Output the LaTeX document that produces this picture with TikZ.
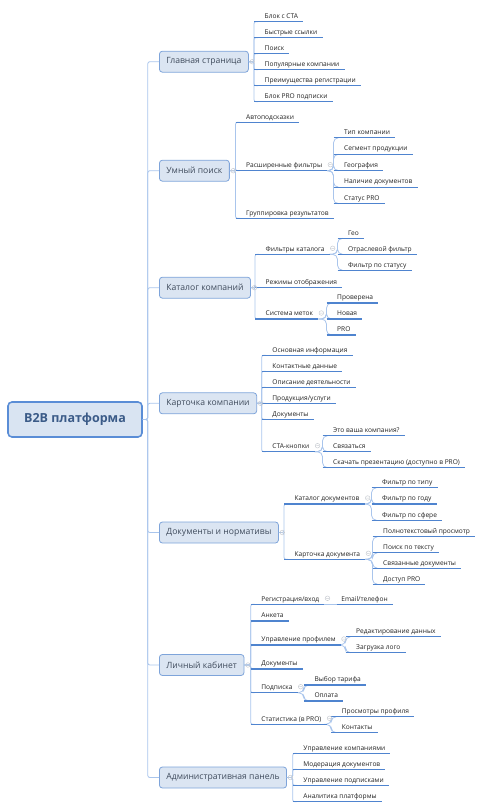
\documentclass[tikz,border=0pt]{standalone}
\usepackage{fontspec}
\setmainfont{Open Sans}
\usetikzlibrary{calc}
\definecolor{rootfill}{HTML}{D9E4F2}
\definecolor{rootline}{HTML}{5A8DD6}
\definecolor{roottext}{HTML}{3B5B88}
\definecolor{topicfill}{HTML}{DBE5F2}
\definecolor{topicline}{HTML}{7EA4DA}
\definecolor{topictext}{HTML}{3F4B5C}
\definecolor{linkblue}{HTML}{A9C5EC}
\definecolor{ulblue}{HTML}{4F84CF}
\definecolor{leaftext}{HTML}{222222}
\definecolor{foldgray}{HTML}{C9CDD3}

\begin{document}
\begin{tikzpicture}[
  x=1pt, y=-1pt,
  root/.style={draw=rootline, fill=rootfill, line width=1.6pt, rounded corners=4pt, minimum width=134pt, minimum height=35pt, text=roottext, font=\fontsize{12.5}{14}\selectfont\bfseries},
  topic/.style={anchor=west, draw=topicline, fill=topicfill, line width=0.8pt, rounded corners=3pt, minimum height=21pt, inner xsep=7pt, text=topictext, font=\fontsize{8.6}{10}\selectfont},
  leaf/.style={anchor=south west, inner sep=0pt, text height=5.2pt, text depth=3pt, text=leaftext, font=\fontsize{6.6}{8}\selectfont, execute at begin node={\hspace*{#1}}, execute at end node={\hspace*{5pt}}},
  leaf/.default=10.5pt,
  link/.style={draw=linkblue, line width=0.8pt, rounded corners=2pt},
  twig/.style={draw=linkblue, line width=0.8pt, rounded corners=5pt},
  uline/.style={draw=ulblue, line width=1.3pt},
  fold/.style={draw=foldgray, line width=0.5pt}
]
  \useasboundingbox (0,0) rectangle (483,810);

  % Root
  \node[root] (root) at (75,419.5) {B2B платформа};

  % Main topics
  \node[topic] (home) at (159,61.7) {Главная страница};
  \node[topic] (search) at (159,170.7) {Умный поиск};
  \node[topic] (catalog) at (159,287.7) {Каталог компаний};
  \node[topic] (card) at (159,403.3) {Карточка компании};
  \node[topic] (docs) at (159,532.5) {Документы и нормативы};
  \node[topic] (cabinet) at (159,665) {Личный кабинет};
  \node[topic] (admin) at (159,777.5) {Административная панель};

  % Home page
  \node[leaf] (home1) at (254,21.7) {Блок с CTA};
  \node[leaf] (home2) at (254,37.7) {Быстрые ссылки};
  \node[leaf] (home3) at (254,53.7) {Поиск};
  \node[leaf] (home4) at (254,69.7) {Популярные компании};
  \node[leaf] (home5) at (254,85.7) {Преимущества регистрации};
  \node[leaf] (home6) at (254,101.7) {Блок PRO подписки};

  % Smart search
  \node[leaf] (search1) at (235.5,122.3) {Автоподсказки};
  \node[leaf] (search2) at (235.5,170.7) {Расширенные фильтры};
  \node[leaf] (search3) at (235.5,218.3) {Группировка результатов};
  \node[leaf] (filt1) at (333.5,137.7) {Тип компании};
  \node[leaf] (filt2) at (333.5,154.2) {Сегмент продукции};
  \node[leaf] (filt3) at (333.5,170.7) {География};
  \node[leaf] (filt4) at (333.5,187.2) {Наличие документов};
  \node[leaf] (filt5) at (333.5,203.7) {Статус PRO};

  % Company catalog
  \node[leaf] (catalog1) at (255,254.3) {Фильтры каталога};
  \node[leaf] (catalog2) at (255,287.7) {Режимы отображения};
  \node[leaf] (catalog3) at (255,319) {Система меток};
  \node[leaf] (cfilt1) at (337.5,238.3) {Гео};
  \node[leaf] (cfilt2) at (337.5,254.3) {Отраслевой фильтр};
  \node[leaf] (cfilt3) at (337.5,270.3) {Фильтр по статусу};
  \node[leaf] (mark1) at (326.5,303) {Проверена};
  \node[leaf] (mark2) at (326.5,319) {Новая};
  \node[leaf] (mark3) at (326.5,335) {PRO};

  % Company card
  \node[leaf] (card1) at (261.7,355.3) {Основная информация};
  \node[leaf] (card2) at (261.7,371.3) {Контактные данные};
  \node[leaf] (card3) at (261.7,387.3) {Описание деятельности};
  \node[leaf] (card4) at (261.7,403.3) {Продукция/услуги};
  \node[leaf] (card5) at (261.7,419.3) {Документы};
  \node[leaf] (card6) at (261.7,451.7) {CTA-кнопки};
  \node[leaf] (cta1) at (322.5,435.7) {Это ваша компания?};
  \node[leaf] (cta2) at (322.5,451.7) {Связаться};
  \node[leaf] (cta3) at (322.5,467.7) {Скачать презентацию (доступно в PRO)};

  % Documents
  \node[leaf] (docs1) at (284,504) {Каталог документов};
  \node[leaf] (docs2) at (284,559.3) {Карточка документа};
  \node[leaf] (dfilt1) at (371.5,487.7) {Фильтр по типу};
  \node[leaf] (dfilt2) at (371.5,504) {Фильтр по году};
  \node[leaf] (dfilt3) at (371.5,520.3) {Фильтр по сфере};
  \node[leaf] (dcard1) at (372.5,536.7) {Полнотекстовый просмотр};
  \node[leaf] (dcard2) at (372.5,552.7) {Поиск по тексту};
  \node[leaf] (dcard3) at (372.5,568.3) {Связанные документы};
  \node[leaf] (dcard4) at (372.5,584.3) {Доступ PRO};

  % Personal cabinet
  \node[leaf] (cab1) at (250.7,604.3) {Регистрация/вход};
  \node[leaf] (cab2) at (250.7,621) {Анкета};
  \node[leaf] (cab3) at (250.7,645) {Управление профилем};
  \node[leaf] (cab4) at (250.7,669) {Документы};
  \node[leaf] (cab5) at (250.7,692.7) {Подписка};
  \node[leaf] (cab6) at (250.7,724.3) {Статистика (в PRO)};
  \node[leaf=4.5pt] (email) at (336.7,604.3) {Email/телефон};
  \node[leaf] (prof1) at (345.5,636.7) {Редактирование данных};
  \node[leaf] (prof2) at (345.5,652.7) {Загрузка лого};
  \node[leaf] (sub1) at (303.8,685) {Выбор тарифа};
  \node[leaf] (sub2) at (303.8,701) {Оплата};
  \node[leaf] (stat1) at (331.2,716.7) {Просмотры профиля};
  \node[leaf] (stat2) at (331.2,732.7) {Контакты};

  % Admin panel
  \node[leaf] (admin1) at (292.7,753.3) {Управление компаниями};
  \node[leaf] (admin2) at (292.7,769.3) {Модерация документов};
  \node[leaf] (admin3) at (292.7,785.3) {Управление подписками};
  \node[leaf] (admin4) at (292.7,801.7) {Аналитика платформы};

  % Connectors
  \foreach \t in {home,search,catalog,card,docs,cabinet,admin}
    \draw[link] (root.east) -- ++(5,0) |- (\t.west);
  \foreach \c in {home1,home2,home3,home4,home5,home6}
    \draw[link] (home.east) -| (\c.south west) -- ++(4,0);
  \foreach \c in {search1,search2,search3}
    \draw[link] (search.east) -| (\c.south west) -- ++(4,0);
  \foreach \c in {catalog1,catalog2,catalog3}
    \draw[link] (catalog.east) -| (\c.south west) -- ++(4,0);
  \foreach \c in {card1,card2,card3,card4,card5,card6}
    \draw[link] (card.east) -| (\c.south west) -- ++(4,0);
  \foreach \c in {docs1,docs2}
    \draw[link] (docs.east) -| (\c.south west) -- ++(4,0);
  \foreach \c in {cab1,cab2,cab3,cab4,cab5,cab6}
    \draw[link] (cabinet.east) -| (\c.south west) -- ++(4,0);
  \foreach \c in {admin1,admin2,admin3,admin4}
    \draw[link] (admin.east) -| (\c.south west) -- ++(4,0);

  \foreach \c in {filt1,filt2,filt3,filt4,filt5}
    \draw[twig] (search2.south east) -| (\c.south west) -- ++(5,0);
  \foreach \c in {cfilt1,cfilt2,cfilt3}
    \draw[twig] (catalog1.south east) -| (\c.south west) -- ++(5,0);
  \foreach \c in {mark1,mark2,mark3}
    \draw[twig] (catalog3.south east) -| (\c.south west) -- ++(5,0);
  \foreach \c in {cta1,cta2,cta3}
    \draw[twig] (card6.south east) -| (\c.south west) -- ++(5,0);
  \foreach \c in {dfilt1,dfilt2,dfilt3}
    \draw[twig] (docs1.south east) -| (\c.south west) -- ++(5,0);
  \foreach \c in {dcard1,dcard2,dcard3,dcard4}
    \draw[twig] (docs2.south east) -| (\c.south west) -- ++(5,0);
  \foreach \c in {prof1,prof2}
    \draw[twig] (cab3.south east) -| (\c.south west) -- ++(5,0);
  \foreach \c in {sub1,sub2}
    \draw[twig] (cab5.south east) -| (\c.south west) -- ++(5,0);
  \foreach \c in {stat1,stat2}
    \draw[twig] (cab6.south east) -| (\c.south west) -- ++(5,0);
  \draw[link] (cab1.south east) -- (email.south west);

  % Underlines
  \foreach \c in {home1,home2,home3,home4,home5,home6,search1,search2,search3,
      filt1,filt2,filt3,filt4,filt5,catalog1,catalog2,catalog3,cfilt1,cfilt2,cfilt3,
      mark1,mark2,mark3,card1,card2,card3,card4,card5,card6,cta1,cta2,cta3,
      docs1,docs2,dfilt1,dfilt2,dfilt3,dcard1,dcard2,dcard3,dcard4,
      cab1,cab2,cab3,cab4,cab5,cab6,email,prof1,prof2,sub1,sub2,stat1,stat2,
      admin1,admin2,admin3,admin4}
    \draw[uline] (\c.south west) -- (\c.south east);

  % Fold markers
  \foreach \t in {home,search,catalog,card,docs,cabinet,admin}
    \draw[fold] ($(\t.east)+(3.5,0)$) circle (2.3) ++(-1.3,0) -- ++(2.6,0);
  \foreach \p in {search2,catalog1,catalog3,card6,docs1,docs2,cab1,cab3,cab5,cab6}
    \draw[fold] ($(\p.south east)+(3,-6)$) circle (2.3) ++(-1.3,0) -- ++(2.6,0);
\end{tikzpicture}
\end{document}
